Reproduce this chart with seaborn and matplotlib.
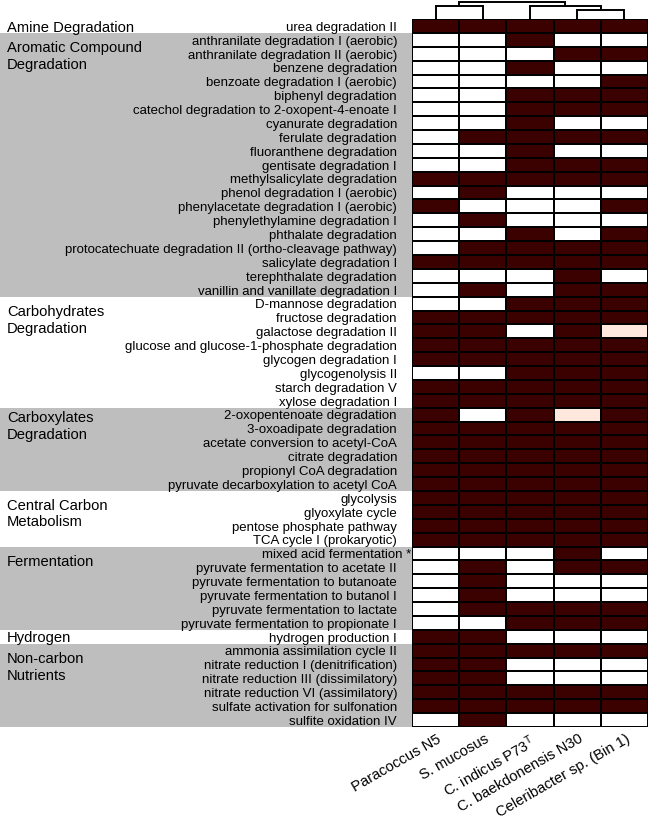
import numpy as np
import pandas as pd
import matplotlib
matplotlib.use("Agg")
import matplotlib.pyplot as plt
import matplotlib.transforms as mtransforms
import seaborn as sns
from matplotlib.colors import LinearSegmentedColormap

sns.set_theme(style="white")
plt.rcParams['font.family'] = ['Liberation Sans', 'DejaVu Sans']
plt.rcParams['mathtext.fontset'] = 'custom'
plt.rcParams['mathtext.rm'] = 'Liberation Sans'
plt.rcParams['mathtext.it'] = 'Liberation Sans:italic'

# ---------------- data ----------------
organisms = ["Paracoccus N5", "S. mucosus", "C. indicus P73$^{\\mathrm{T}}$",
             "C. baekdonensis N30", "Celeribacter sp. (Bin 1)"]

categories = ["Amine Degradation", "Aromatic Compound\nDegradation",
              "Carbohydrates\nDegradation", "Carboxylates\nDegradation",
              "Central Carbon\nMetabolism", "Fermentation", "Hydrogen",
              "Non-carbon\nNutrients"]
category_sizes = [1, 19, 8, 6, 4, 6, 1, 6]

pathways = [
    "urea degradation II",
    "anthranilate degradation I (aerobic)",
    "anthranilate degradation II (aerobic)",
    "benzene degradation",
    "benzoate degradation I (aerobic)",
    "biphenyl degradation",
    "catechol degradation to 2-oxopent-4-enoate I",
    "cyanurate degradation",
    "ferulate degradation",
    "fluoranthene degradation",
    "gentisate degradation I",
    "methylsalicylate degradation",
    "phenol degradation I (aerobic)",
    "phenylacetate degradation I (aerobic)",
    "phenylethylamine degradation I",
    "phthalate degradation",
    "protocatechuate degradation II (ortho-cleavage pathway)",
    "salicylate degradation I",
    "terephthalate degradation",
    "vanillin and vanillate degradation I",
    "D-mannose degradation",
    "fructose degradation",
    "galactose degradation II",
    "glucose and glucose-1-phosphate degradation",
    "glycogen degradation I",
    "glycogenolysis II",
    "starch degradation V",
    "xylose degradation I",
    "2-oxopentenoate degradation",
    "3-oxoadipate degradation",
    "acetate conversion to acetyl-CoA",
    "citrate degradation",
    "propionyl CoA degradation",
    "pyruvate decarboxylation to acetyl CoA",
    "glycolysis",
    "glyoxylate cycle",
    "pentose phosphate pathway",
    "TCA cycle I (prokaryotic)",
    "mixed acid fermentation *",
    "pyruvate fermentation to acetate II",
    "pyruvate fermentation to butanoate",
    "pyruvate fermentation to butanol I",
    "pyruvate fermentation to lactate",
    "pyruvate fermentation to propionate I",
    "hydrogen production I",
    "ammonia assimilation cycle II",
    "nitrate reduction I (denitrification)",
    "nitrate reduction III (dissimilatory)",
    "nitrate reduction VI (assimilatory)",
    "sulfate activation for sulfonation",
    "sulfite oxidation IV",
]

presence = [
    [1, 1, 1, 1, 1],
    [0, 0, 1, 0, 0],
    [0, 0, 0, 1, 1],
    [0, 0, 1, 0, 0],
    [0, 0, 0, 0, 1],
    [0, 0, 1, 1, 1],
    [0, 0, 1, 1, 1],
    [0, 0, 1, 0, 0],
    [0, 1, 1, 1, 1],
    [0, 0, 1, 0, 0],
    [0, 0, 1, 1, 1],
    [1, 1, 1, 1, 1],
    [0, 1, 0, 0, 0],
    [1, 0, 0, 0, 1],
    [0, 1, 0, 0, 0],
    [0, 0, 1, 0, 1],
    [0, 1, 1, 1, 1],
    [1, 1, 1, 1, 1],
    [0, 0, 0, 1, 0],
    [0, 1, 0, 1, 1],
    [0, 0, 1, 1, 1],
    [1, 1, 1, 1, 1],
    [1, 1, 0, 1, 0.1],
    [1, 1, 1, 1, 1],
    [1, 1, 1, 1, 1],
    [0, 0, 1, 1, 1],
    [1, 1, 1, 1, 1],
    [1, 1, 1, 1, 1],
    [1, 0, 1, 0.1, 1],
    [1, 1, 1, 1, 1],
    [1, 1, 1, 1, 1],
    [1, 1, 1, 1, 1],
    [1, 1, 1, 1, 1],
    [1, 1, 1, 1, 1],
    [1, 1, 1, 1, 1],
    [1, 1, 1, 1, 1],
    [1, 1, 1, 1, 1],
    [1, 1, 1, 1, 1],
    [0, 0, 0, 1, 0],
    [0, 1, 0, 1, 1],
    [0, 1, 0, 0, 0],
    [0, 1, 0, 0, 0],
    [0, 1, 1, 1, 1],
    [0, 0, 1, 1, 1],
    [1, 1, 0, 0, 0],
    [1, 1, 1, 1, 1],
    [1, 1, 0, 0, 0],
    [1, 1, 0, 0, 0],
    [1, 1, 1, 1, 1],
    [1, 1, 1, 1, 1],
    [0, 1, 0, 0, 0],
]

# dendrogram merges (scipy-like: left id, right id, height); new ids start at 5
dendro_merges = [(0, 1, 13.3), (3, 4, 8.7), (2, 6, 13.3), (5, 7, 17.3)]

df = pd.DataFrame(presence, index=pathways, columns=organisms)

# ---------------- layout ----------------
W, H = 650, 819
hm_left, hm_right, hm_top, hm_bot = 412, 648, 19, 727
label_offsets = [0.11, 0.61, 0.61, 0.25, 0.55, 0.61, 0.11, 0.61]  # rows below band top
fig = plt.figure(figsize=(W / 100, H / 100), dpi=100)

# background category bands
bg = fig.add_axes([0, 1 - hm_bot / H, hm_left / W, (hm_bot - hm_top) / H])
bg.set_xlim(0, 1)
bg.set_ylim(len(pathways), 0)
bg.axis("off")
start = 0
for i, (cat, n) in enumerate(zip(categories, category_sizes)):
    bg.axhspan(start, start + n, color="#bebebe" if i % 2 == 1 else "white", lw=0)
    bg.text(7 / hm_left, start + label_offsets[i], cat, ha="left", va="top",
            fontsize=10.6, linespacing=1.25, color="black")
    start += n

# heatmap
ax = fig.add_axes([hm_left / W, 1 - hm_bot / H, (hm_right - hm_left) / W,
                   (hm_bot - hm_top) / H])
cmap = LinearSegmentedColormap.from_list(
    "pw", [(0, "#ffffff"), (0.1, "#fee8dc"), (1, "#3b0101")])
sns.heatmap(df, ax=ax, cmap=cmap, vmin=0, vmax=1, cbar=False,
            linewidths=1.4, linecolor="black",
            xticklabels=True, yticklabels=True)
ax.tick_params(axis="y", length=0, pad=10.8, labelsize=9.5)
ax.tick_params(axis="x", length=0, pad=3.5, labelsize=10.6)
plt.setp(ax.get_yticklabels(), rotation=0, color="black")
plt.setp(ax.get_xticklabels(), rotation=30, ha="right", color="black")
ax.set_xlabel("")
ax.set_ylabel("")

for lab in ax.get_yticklabels():
    dx = 14 if lab.get_text().endswith("*") else 0
    lab.set_transform(lab.get_transform() +
                      mtransforms.ScaledTranslation(dx / 100, -1.8 / 100, fig.dpi_scale_trans))
for lab in ax.get_xticklabels():
    lab.set_transform(lab.get_transform() +
                      mtransforms.ScaledTranslation(8 / 100, 0, fig.dpi_scale_trans))

# dendrogram
dax = fig.add_axes([hm_left / W, 1 - hm_top / H, (hm_right - hm_left) / W, hm_top / H])
dax.set_xlim(0, len(organisms))
dax.set_ylim(0, hm_top)
dax.axis("off")
nodes = {i: (i + 0.5, 0.0) for i in range(len(organisms))}
nid = len(organisms)
for a, b, h in dendro_merges:
    xa, ha = nodes[a]
    xb, hb = nodes[b]
    dax.plot([xa, xa, xb, xb], [ha, h, h, hb], color="black", lw=1.4,
             clip_on=False, solid_joinstyle="miter")
    nodes[nid] = ((xa + xb) / 2, h)
    nid += 1

fig.savefig("out.png", dpi=100)
